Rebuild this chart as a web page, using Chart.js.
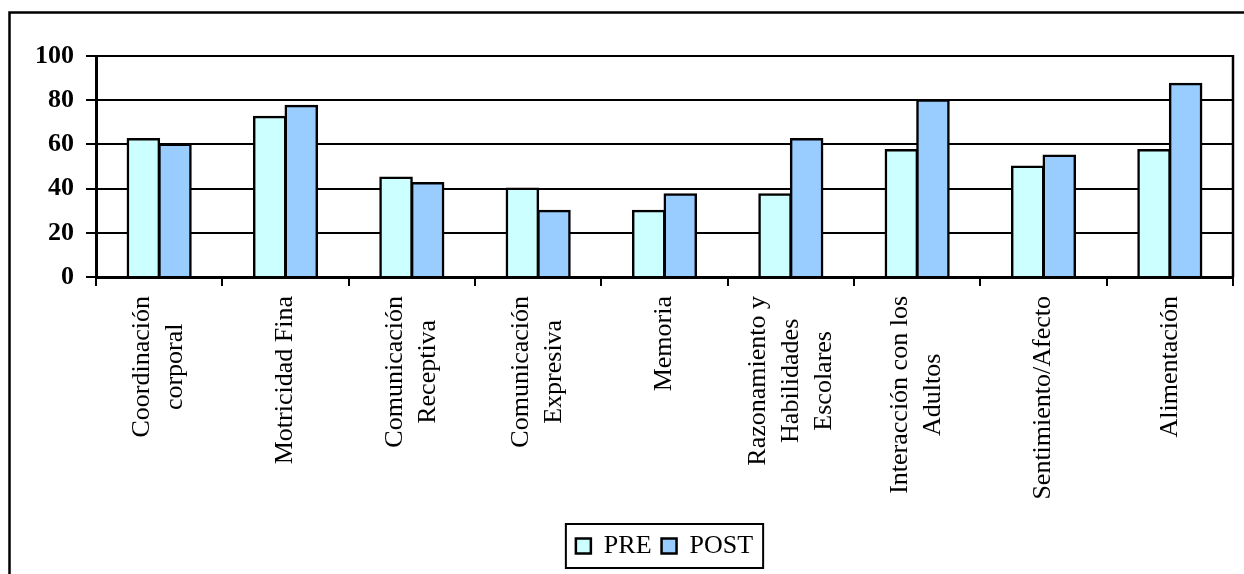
<!DOCTYPE html>
<html>
<head>
<meta charset="utf-8">
<script src="https://cdn.jsdelivr.net/npm/chart.js@4/dist/chart.umd.min.js"></script>
<style>
  html, body { margin: 0; padding: 0; background: #fff; }
  #wrap { position: relative; width: 1244px; height: 574px; }
</style>
</head>
<body>
<div id="wrap"><canvas id="c"></canvas></div>
<script>
// Area labels (one entry per line of each label)
const categories = [
  ['Coordinación', 'corporal'],
  ['Motricidad Fina'],
  ['Comunicación', 'Receptiva'],
  ['Comunicación', 'Expresiva'],
  ['Memoria'],
  ['Razonamiento y', 'Habilidades', 'Escolares'],
  ['Interacción con los', 'Adultos'],
  ['Sentimiento/Afecto'],
  ['Alimentación']
];
const preValues  = [62.5, 72.5, 45, 40, 30, 37.5, 57.5, 50, 57.5];
const postValues = [60, 77.5, 42.5, 30, 37.5, 62.5, 80, 55, 87.5];
const yTicks = [0, 20, 40, 60, 80, 100];

const SERIF = '"Liberation Serif", "Times New Roman", serif';

// Multi-line, centred, vertical category labels under the x axis
const xLabelPlugin = {
  id: 'xLabels',
  afterDraw(chart) {
    const ctx = chart.ctx;
    const xs = chart.scales.x;
    const top = chart.chartArea.bottom + 19;
    const lh = 33;
    ctx.save();
    ctx.font = '26px ' + SERIF;
    ctx.fillStyle = '#000';
    ctx.textAlign = 'center';
    ctx.textBaseline = 'middle';
    categories.forEach((lines, i) => {
      const cx = xs.getPixelForValue(i);
      const maxW = Math.max(...lines.map(l => ctx.measureText(l).width));
      ctx.save();
      ctx.translate(cx, top);
      ctx.rotate(-Math.PI / 2);
      lines.forEach((l, j) => {
        ctx.fillText(l, -maxW / 2, (j - (lines.length - 1) / 2) * lh);
      });
      ctx.restore();
    });
    ctx.restore();
  }
};

// Plot-area right edge, legend box and outer chart frame
const framePlugin = {
  id: 'frames',
  afterDraw(chart) {
    const ctx = chart.ctx;
    const a = chart.chartArea;
    ctx.save();
    ctx.strokeStyle = '#000';
    ctx.lineWidth = 2.5;
    ctx.beginPath();
    ctx.moveTo(a.right, a.top - 1);
    ctx.lineTo(a.right, a.bottom);
    ctx.stroke();

    // outer frame (left and top edges are inside the canvas)
    ctx.lineWidth = 2.5;
    ctx.beginPath();
    ctx.moveTo(9.5, 600);
    ctx.lineTo(9.5, 12.5);
    ctx.lineTo(1300, 12.5);
    ctx.stroke();

    const lg = chart.legend;
    if (lg && lg.legendHitBoxes && lg.legendHitBoxes.length) {
      const hb = lg.legendHitBoxes;
      const l = Math.min(...hb.map(b => b.left)) - 10;
      const r = Math.max(...hb.map(b => b.left + b.width)) + 10;
      ctx.lineWidth = 2;
      ctx.strokeRect(l, lg.top + 1, r - l, lg.bottom - lg.top - 2);
    }
    ctx.restore();
  }
};

new Chart(document.getElementById('c'), {
  type: 'bar',
  data: {
    labels: categories.map(c => c.join(' ')),
    datasets: [
      { label: 'PRE', data: preValues, backgroundColor: '#CCFFFF', borderColor: '#000', borderWidth: 2.5, inflateAmount: 1 },
      { label: 'POST', data: postValues, backgroundColor: '#99CCFF', borderColor: '#000', borderWidth: 2.5, inflateAmount: 1 }
    ]
  },
  options: {
    responsive: true,
    maintainAspectRatio: false,
    animation: false,
    datasets: { bar: { categoryPercentage: 0.5, barPercentage: 1.0 } },
    layout: { padding: { top: 56, right: 11, left: 0, bottom: 5 } },
    plugins: {
      tooltip: { enabled: false },
      legend: {
        position: 'bottom',
        fullSize: false,
        labels: {
          color: '#000',
          font: { family: SERIF, size: 26 },
          boxWidth: 15,
          boxHeight: 15,
          padding: 10
        }
      }
    },
    scales: {
      x: {
        grid: { offset: true, drawOnChartArea: false, drawTicks: true, tickLength: 9, color: '#000', lineWidth: 2 },
        border: { display: true, color: '#000', width: 3 },
        ticks: { display: false },
        afterFit(s) { s.height = 246; }
      },
      y: {
        min: 0,
        max: 100,
        afterBuildTicks(s) { s.ticks = yTicks.map(v => ({ value: v })); },
        grid: { color: '#000', lineWidth: 2, tickLength: 10 },
        border: { display: true, color: '#000', width: 3 },
        ticks: {
          color: '#000',
          padding: 12,
          font: { family: SERIF, size: 26, weight: 'bold' }
        },
        afterFit(s) { s.width = 96; }
      }
    }
  },
  plugins: [xLabelPlugin, framePlugin]
});
</script>
</body>
</html>
